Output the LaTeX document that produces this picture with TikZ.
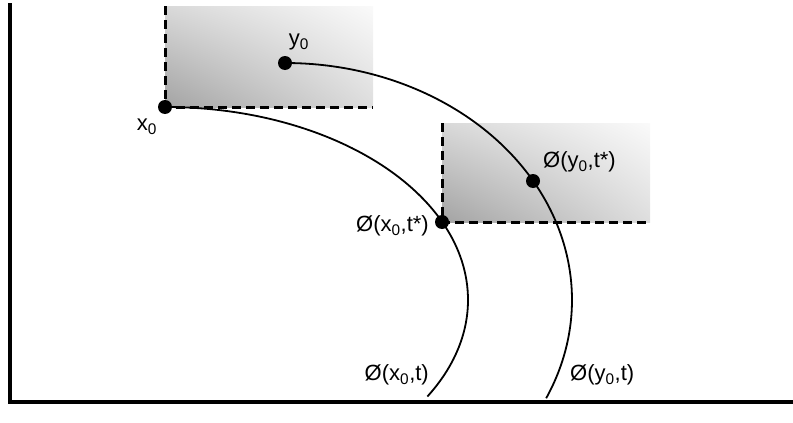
\documentclass[tikz,border=0pt]{standalone}
\usepackage{fontspec}
\setmainfont{Liberation Sans}
\usetikzlibrary{shadings}
\begin{document}
\begin{tikzpicture}[x=1pt,y=-1pt,
  dot/.style={circle,fill=black,inner sep=0pt,minimum size=14pt},
  boxshade/.style={lower left=black!36,upper right=black!2,upper left=black!15,lower right=black!13},
  dashedge/.style={line width=3pt,dash pattern=on 9pt off 5pt},
  flow/.style={line width=1.8pt},
  axis/.style={line width=4pt},
  lbl/.style={font=\fontsize{22}{26}\selectfont,inner sep=0pt}]
\useasboundingbox (0,0) rectangle (793,423);
% axes
\coordinate (top) at (10,3);
\coordinate (origin) at (10,402);
\coordinate (right) at (793,402);
\draw[axis] (top) -- (origin) -- (right);
% shaded boxes
\coordinate (x0) at (165,107);
\coordinate (b1) at (373,6);
\coordinate (xt) at (442,222);
\coordinate (b2) at (650,123);
\shade[boxshade] (x0) rectangle (b1);
\shade[boxshade] (xt) rectangle (b2);
\draw[dashedge] (165,6) -- (x0) -- (373,107);
\draw[dashedge] (442,123) -- (xt) -- (650,222);
% flows (elliptical arcs)
\coordinate (y0) at (285,63);
\coordinate (yt) at (533,181);
\draw[flow] (x0) arc[start angle=90,end angle=-30,x radius=303pt,y radius=193pt];
\draw[flow] (y0) arc[start angle=90,end angle=-24.5,x radius=287pt,y radius=237pt];
\node[dot] (dx0) at (x0) {};
\node[dot] (dy0) at (y0) {};
\node[dot] (dxt) at (xt) {};
\node[dot] (dyt) at (yt) {};
% labels
\node[lbl] (lx0) at (147,127) {x\textsubscript{0}};
\node[lbl] (ly0) at (299,42) {y\textsubscript{0}};
\node[lbl,anchor=east] (lxt) at (429,226) {Ø(x\textsubscript{0},t*)};
\node[lbl,anchor=west] (lyt) at (543,162) {Ø(y\textsubscript{0},t*)};
\node[lbl,anchor=east] (lxf) at (429,375) {Ø(x\textsubscript{0},t)};
\node[lbl,anchor=west] (lyf) at (570,375) {Ø(y\textsubscript{0},t)};
\end{tikzpicture}
\end{document}
